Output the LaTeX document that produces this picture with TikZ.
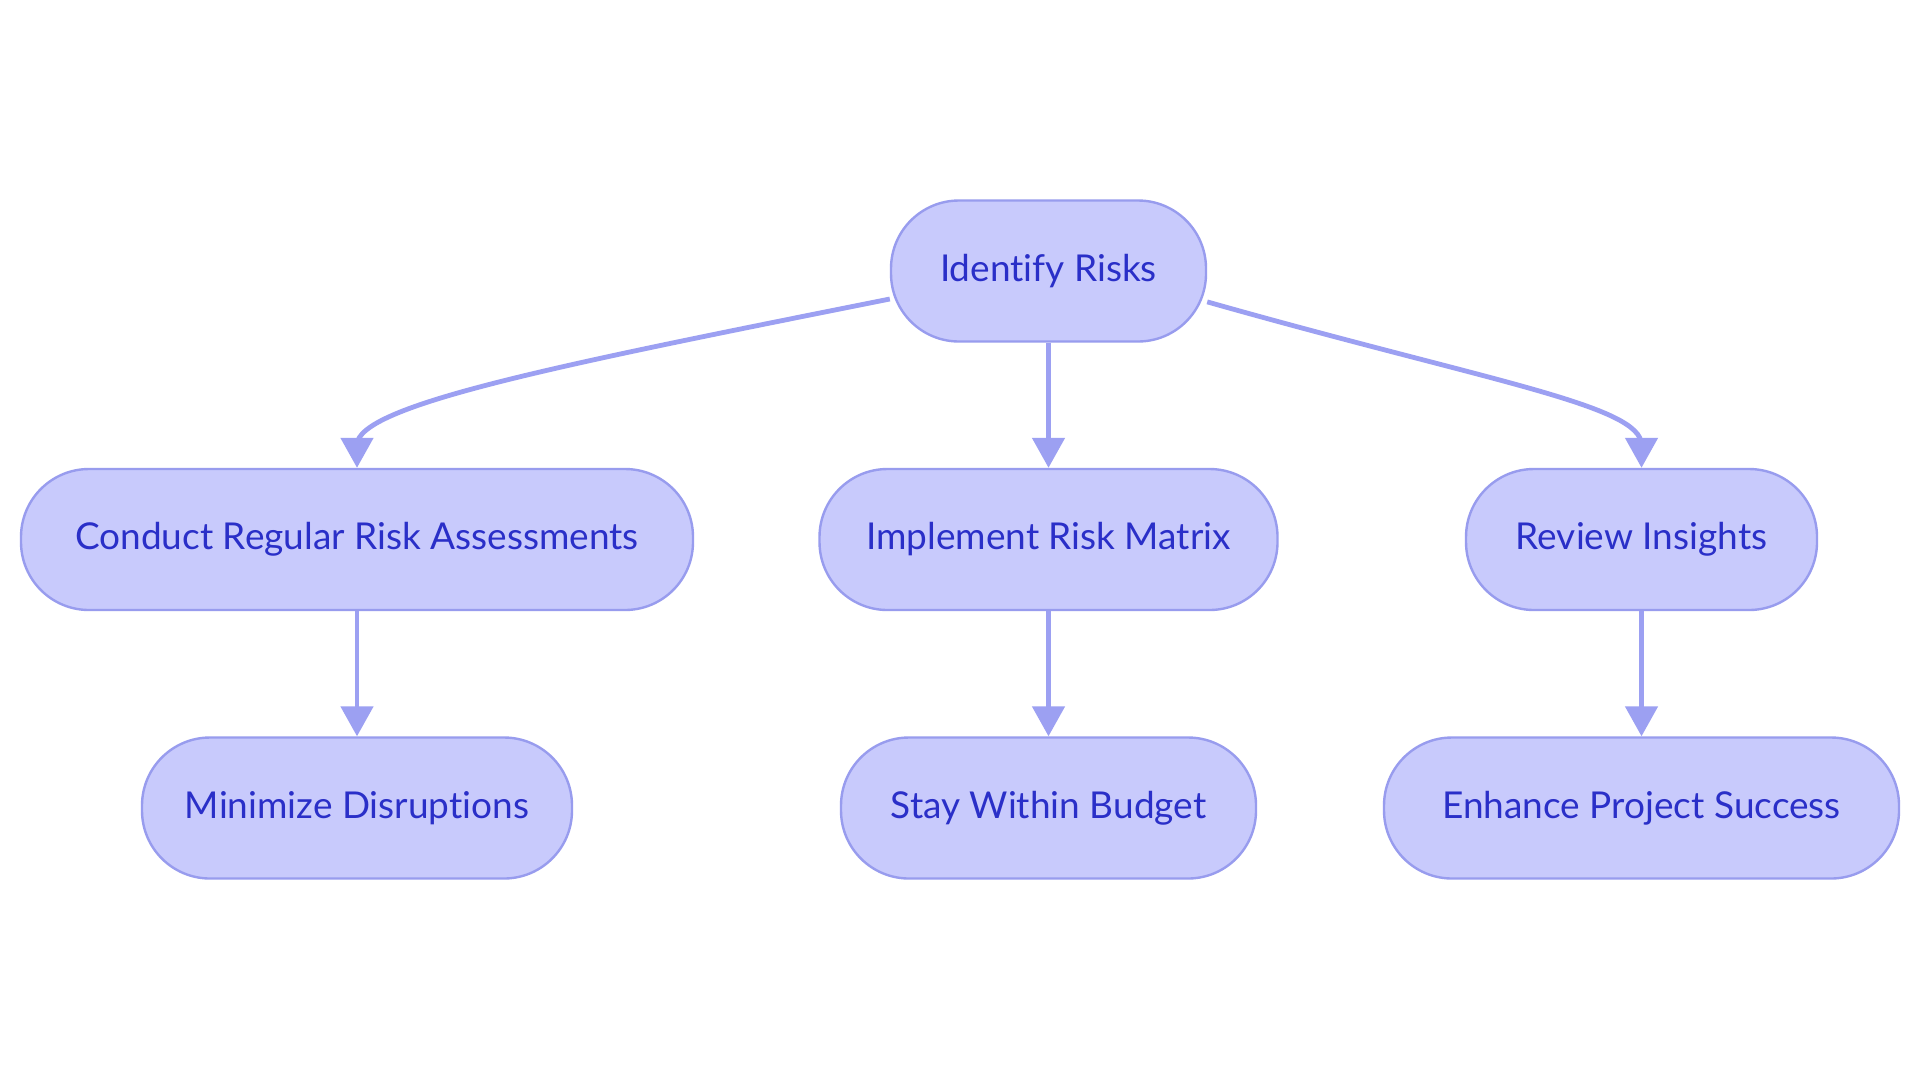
\documentclass[tikz,border=0pt]{standalone}
\usepackage{fontspec}
\setmainfont{Lato}[Ligatures={NoCommon}]
\usetikzlibrary{arrows.meta,calc}
\definecolor{nodefill}{RGB}{200,202,252}
\definecolor{nodeborder}{RGB}{152,156,238}
\definecolor{nodetext}{RGB}{42,47,200}
\definecolor{edgecol}{RGB}{156,160,242}
\begin{document}
\begin{tikzpicture}[x=0.5pt,y=-0.5pt,
  pill/.style={draw=nodeborder, fill=nodefill, line width=1.2pt, rounded corners=34pt,
    minimum height=70.5pt, inner sep=0pt, text=nodetext,
    font=\fontsize{18.5pt}{22pt}\selectfont},
  edge/.style={draw=edgecol, line width=2.4pt,
    -{Triangle[length=15pt,width=16pt]}}]
\useasboundingbox (0,0) rectangle (1920,1083);
\fill[white] (0,0) rectangle (1920,1083);

\node[pill, minimum width=157.5pt] (id) at (1048.5,271) {Identify Risks};
\node[pill, minimum width=336pt] (c1) at (357,539.5) {Conduct Regular Risk Assessments};
\node[pill, minimum width=229pt] (c2) at (1048.5,539.5) {Implement Risk Matrix};
\node[pill, minimum width=175.5pt] (c3) at (1641.5,539.5) {Review Insights};
\node[pill, minimum width=215pt] (d1) at (357,808) {Minimize Disruptions};
\node[pill, minimum width=207.5pt] (d2) at (1048.5,808) {Stay Within Budget};
\node[pill, minimum width=257.5pt] (d3) at (1641.5,808) {Enhance Project Success};

\draw[edge] (id.190) .. controls (560,365) and (357,405) .. (357,445) -- (c1.north);
\draw[edge] (id.south) -- (c2.north);
\draw[edge] (id.349) .. controls (1490,382) and (1641.5,405) .. (1641.5,445) -- (c3.north);
\draw[edge] (c1.south) -- (d1.north);
\draw[edge] (c2.south) -- (d2.north);
\draw[edge] (c3.south) -- (d3.north);
\end{tikzpicture}
\end{document}
